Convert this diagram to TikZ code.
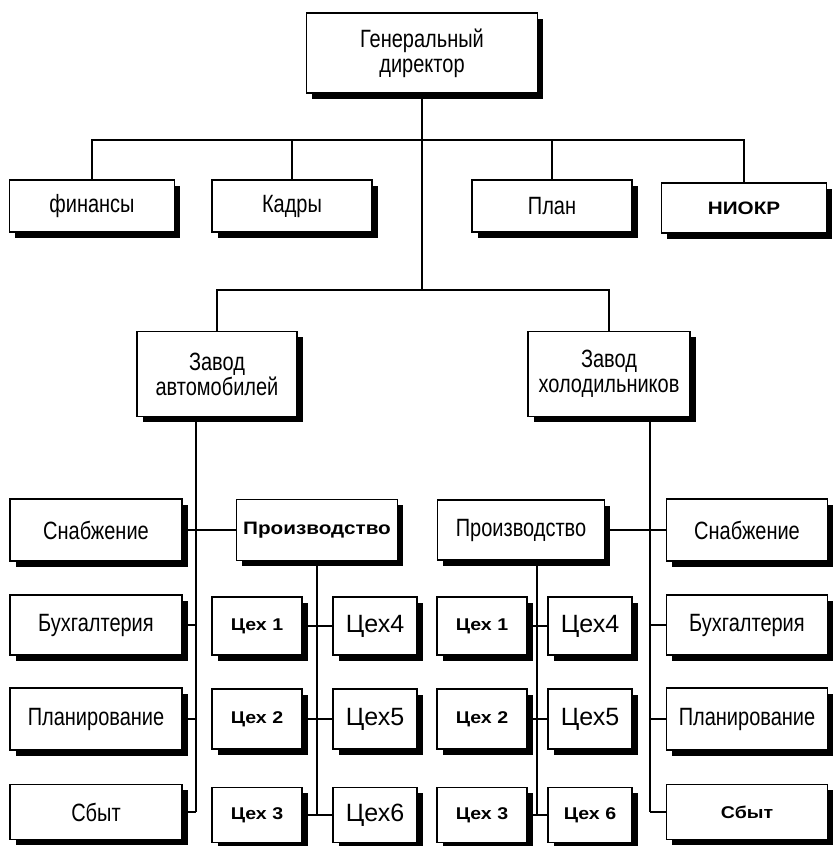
\documentclass[tikz,border=0pt]{standalone}
\usepackage{fontspec}
\setmainfont{Liberation Sans}
\newfontfamily\condfont[FakeStretch=0.8]{Liberation Sans}
\newfontfamily\widefont[FakeStretch=1.15]{Liberation Sans}
\usetikzlibrary{shadows}

\begin{document}
\begin{tikzpicture}[
  x=1pt, y=-1pt,
  box/.style={draw, line width=1.6pt, fill=white, inner sep=1pt,
              align=center,
              drop shadow={shadow xshift=5.5pt, shadow yshift=-5.5pt,
                           fill=black, opacity=1}},
  lab/.style={font=\condfont\fontsize{25}{25}\selectfont},
  bld/.style={font=\widefont\bfseries\fontsize{17}{18}\selectfont},
  big/.style={font=\fontsize{25}{25}\selectfont},
  line/.style={line width=1.6pt}
]
\useasboundingbox (0,0) rectangle (833,846);

% --- Top: director ---
\node[box, lab, minimum width=231pt, minimum height=80pt] (gd) at (422,53)
  {Генеральный\\директор};

% --- Staff departments ---
\node[box, lab, minimum width=165pt, minimum height=52pt] (fin)   at (92,206)  {финансы};
\node[box, lab, minimum width=160pt, minimum height=52pt] (kadr)  at (292,206) {Кадры};
\node[box, lab, minimum width=160pt, minimum height=52pt] (plan)  at (552,206) {План};
\node[box, bld, font=\widefont\bfseries\fontsize{18}{18}\selectfont,
      minimum width=165pt, minimum height=50pt] (niokr) at (744,208) {НИОКР};

% --- Factories ---
\node[box, lab, minimum width=160pt, minimum height=85pt] (za) at (217,374)
  {Завод\\автомобилей};
\node[box, lab, minimum width=162pt, minimum height=85pt] (zh) at (609,374)
  {Завод\\холодильников};

% --- Left factory: departments ---
\node[box, lab, minimum width=172pt, minimum height=62pt] (snab1) at (96,530) {Снабжение};
\node[box, lab, minimum width=172pt, minimum height=60pt] (buh1)  at (96,625) {Бухгалтерия};
\node[box, lab, minimum width=172pt, minimum height=62pt] (plan1) at (96,719) {Планирование};
\node[box, lab, minimum width=172pt, minimum height=55pt] (sbyt1) at (96,812) {Сбыт};
\node[box, bld, font=\widefont\bfseries\fontsize{18}{18}\selectfont,
      minimum width=161pt, minimum height=61pt] (prod1) at (317,530) {Производство};

% --- Left factory: shops ---
\node[box, bld, minimum width=90pt, minimum height=58pt] (ceh1) at (257,626) {Цех 1};
\node[box, bld, minimum width=90pt, minimum height=60pt] (ceh2) at (257,719) {Цех 2};
\node[box, bld, minimum width=90pt, minimum height=55pt] (ceh3) at (257,815) {Цех 3};
\node[box, big, minimum width=84pt, minimum height=58pt] (ceh4) at (375,626) {Цех4};
\node[box, big, minimum width=84pt, minimum height=60pt] (ceh5) at (375,719) {Цех5};
\node[box, big, minimum width=84pt, minimum height=55pt] (ceh6) at (375,815) {Цех6};

% --- Right factory: production and shops ---
\node[box, lab, minimum width=167pt, minimum height=60pt] (prod2) at (521,530) {Производство};
\node[box, bld, minimum width=90pt, minimum height=58pt] (ceh1r) at (482,626) {Цех 1};
\node[box, bld, minimum width=90pt, minimum height=60pt] (ceh2r) at (482,719) {Цех 2};
\node[box, bld, minimum width=90pt, minimum height=55pt] (ceh3r) at (482,815) {Цех 3};
\node[box, big, minimum width=84pt, minimum height=58pt] (ceh4r) at (590,626) {Цех4};
\node[box, big, minimum width=84pt, minimum height=60pt] (ceh5r) at (590,719) {Цех5};
\node[box, bld, minimum width=84pt, minimum height=55pt] (ceh6r) at (590,815) {Цех 6};

% --- Right factory: departments ---
\node[box, lab, minimum width=161pt, minimum height=62pt] (snab2) at (747,530) {Снабжение};
\node[box, lab, minimum width=161pt, minimum height=60pt] (buh2)  at (747,625) {Бухгалтерия};
\node[box, lab, minimum width=161pt, minimum height=62pt] (plan2) at (747,719) {Планирование};
\node[box, bld, minimum width=161pt, minimum height=55pt] (sbyt2) at (747,812) {Сбыт};

% --- Bus lines ---
\coordinate (bus1) at (422,140);
\coordinate (bus2) at (422,290);
\coordinate (sp1) at (196,0);
\coordinate (sp3) at (537,0);
\coordinate (sp4) at (650,0);

% --- Top level ---
\draw[line] (gd.south) -- (bus2);
\draw[line] (fin.north) |- (bus1) -| (niokr.north);
\draw[line] (kadr.north) -- (kadr.north |- bus1);
\draw[line] (plan.north) -- (plan.north |- bus1);
\draw[line] (za.north) |- (bus2) -| (zh.north);

% --- Left factory ---
\draw[line] (za.south -| sp1) -- (sbyt1.east -| sp1);
\draw[line] (snab1.east) -- (prod1.west);
\draw[line] (buh1.east) -- (buh1.east -| sp1);
\draw[line] (plan1.east) -- (plan1.east -| sp1);
\draw[line] (sbyt1.east) -- (sbyt1.east -| sp1);

\draw[line] (prod1.south) -- (prod1.south |- ceh3.east);
\draw[line] (ceh1.east) -- (ceh4.west);
\draw[line] (ceh2.east) -- (ceh5.west);
\draw[line] (ceh3.east) -- (ceh6.west);

% --- Right factory ---
\draw[line] (zh.south -| sp4) -- (sbyt2.west -| sp4);
\draw[line] (prod2.east) -- (snab2.west);
\draw[line] (buh2.west) -- (buh2.west -| sp4);
\draw[line] (plan2.west) -- (plan2.west -| sp4);
\draw[line] (sbyt2.west) -- (sbyt2.west -| sp4);

\draw[line] (prod2.south -| sp3) -- (ceh3r.east -| sp3);
\draw[line] (ceh1r.east) -- (ceh4r.west);
\draw[line] (ceh2r.east) -- (ceh5r.west);
\draw[line] (ceh3r.east) -- (ceh6r.west);
\end{tikzpicture}
\end{document}
